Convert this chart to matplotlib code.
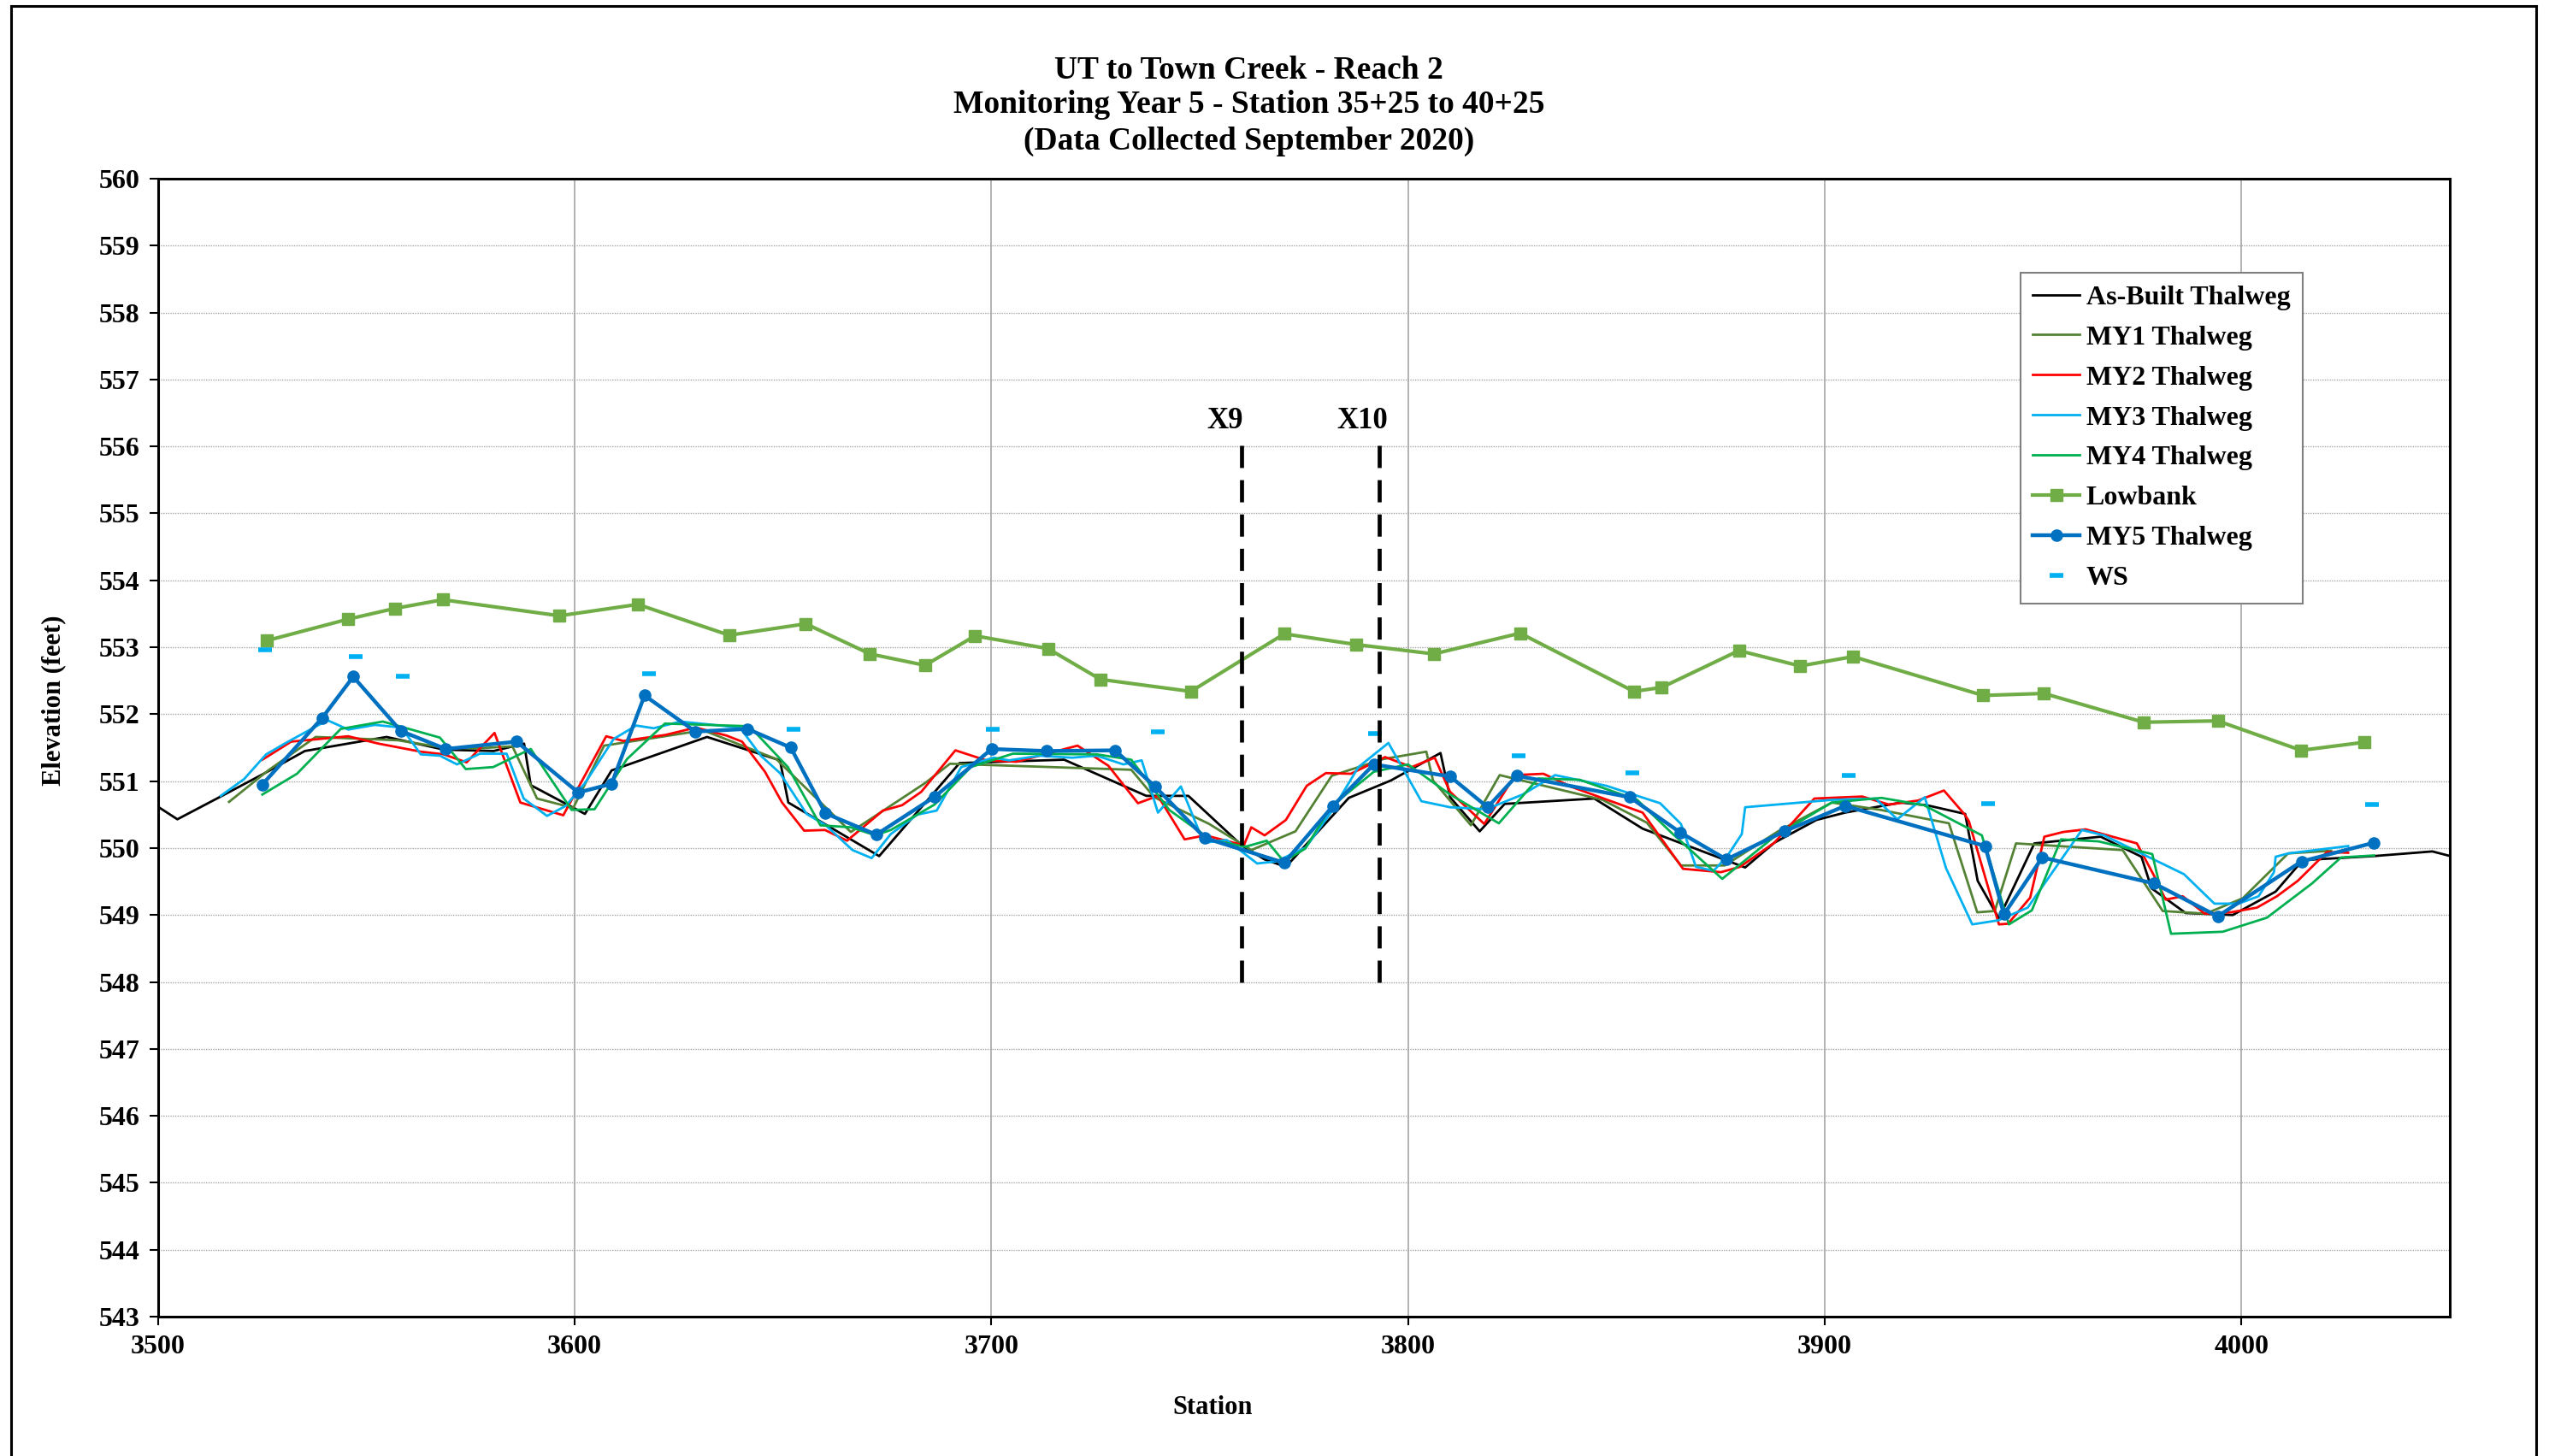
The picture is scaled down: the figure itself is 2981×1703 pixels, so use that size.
import matplotlib
matplotlib.use('Agg')
import matplotlib.pyplot as plt
from matplotlib.lines import Line2D

plt.rcParams['font.family'] = ['Liberation Serif', 'DejaVu Serif']
plt.rcParams['font.weight'] = 'bold'

# --- data (station, elevation in feet) ---
asbuilt_sta = [3498, 3504.7, 3515.1, 3525.7, 3535.3, 3554.9, 3568.7, 3580.6, 3587.9, 3589.5,
               3602.5, 3608.9, 3631.8, 3649.3, 3651.3, 3673.1, 3692.4, 3717.5, 3737.2, 3747.3,
               3760.1, 3765.6, 3770.7, 3785.8, 3795.9, 3807.8, 3810.1, 3817.2, 3823.2, 3844.7,
               3856.3, 3866.9, 3880.9, 3887.9, 3898.0, 3904.9, 3918.3, 3924.5, 3933.7, 3936.7,
               3941.8, 3950.3, 3966.2, 3976.0, 3978.4, 3986.6, 3997.9, 4008.2, 4014.7, 4031.7,
               4045.8, 4052]
asbuilt_elev = [550.70, 550.43, 550.77, 551.12, 551.45, 551.66, 551.47, 551.45, 551.56, 550.94,
                550.51, 551.16, 551.66, 551.31, 550.68, 549.88, 551.27, 551.32, 550.78, 550.78,
                550.04, 549.83, 549.72, 550.75, 551.01, 551.42, 550.76, 550.25, 550.66, 550.74,
                550.29, 550.04, 549.71, 550.08, 550.42, 550.53, 550.68, 550.64, 550.51, 549.51,
                548.95, 550.07, 550.17, 549.87, 549.40, 549.03, 549.00, 549.35, 549.82, 549.88,
                549.95, 549.85]

my1_sta = [3517.1, 3526.5, 3537.9, 3557.6, 3568.6, 3576.8, 3585.1, 3591.0, 3599.7, 3607.1,
           3630.9, 3648.4, 3666.3, 3684.1, 3690.1, 3733.6, 3739.1, 3752.3, 3762.4, 3773.0,
           3781.7, 3794.1, 3804.4, 3806.0, 3815.1, 3822.0, 3846.7, 3857.3, 3865.5, 3876.0,
           3888.8, 3901.7, 3913.4, 3929.8, 3936.6, 3940.8, 3945.9, 3971.5, 3981.1, 3991.4,
           4000.3, 4011.2, 4021.5]
my1_elev = [550.69, 551.16, 551.66, 551.61, 551.50, 551.49, 551.52, 550.74, 550.60, 551.53,
            551.76, 551.33, 550.24, 550.97, 551.26, 551.17, 550.76, 550.36, 549.97, 550.25,
            551.08, 551.33, 551.44, 551.01, 550.34, 551.09, 550.72, 550.38, 549.74, 549.74,
            550.25, 550.68, 550.57, 550.37, 549.04, 549.06, 550.07, 549.97, 549.06, 549.02,
            549.25, 549.92, 549.96]

my2_sta = [3525.1, 3532.0, 3545.7, 3553.0, 3563.1, 3568.6, 3574.1, 3580.8, 3587.0, 3597.3,
           3607.6, 3611.7, 3621.8, 3629.1, 3636.5, 3640.2, 3645.7, 3649.8, 3655.1, 3660.1,
           3665.4, 3674.0, 3678.6, 3683.2, 3691.4, 3698.8, 3706.1, 3720.7, 3728.1, 3735.2,
           3740.0, 3746.4, 3751.4, 3760.6, 3762.4, 3765.6, 3770.7, 3775.7, 3780.3, 3786.3,
           3794.5, 3800.9, 3806.4, 3810.1, 3818.3, 3825.7, 3832.5, 3839.4, 3856.3, 3866.0,
           3875.1, 3879.7, 3887.9, 3897.5, 3909.0, 3915.4, 3922.4, 3928.6, 3933.6, 3934.6,
           3941.8, 3944.0, 3949.3, 3952.7, 3957.2, 3962.6, 3974.9, 3979.0, 3981.8, 3985.9,
           3991.2, 3997.4, 4003.7, 4008.5, 4013.5, 4020.5, 4025.6]
my2_elev = [551.32, 551.59, 551.67, 551.56, 551.44, 551.40, 551.28, 551.72, 550.68, 550.49,
            551.67, 551.60, 551.69, 551.80, 551.68, 551.59, 551.14, 550.68, 550.26, 550.27,
            550.11, 550.56, 550.64, 550.84, 551.46, 551.31, 551.29, 551.53, 551.23, 550.67,
            550.78, 550.13, 550.19, 550.04, 550.31, 550.19, 550.42, 550.93, 551.12, 551.11,
            551.36, 551.21, 551.35, 550.84, 550.36, 551.09, 551.11, 550.91, 550.53, 549.69,
            549.64, 549.72, 550.08, 550.74, 550.77, 550.65, 550.71, 550.86, 550.50, 550.40,
            548.86, 548.87, 549.26, 550.17, 550.24, 550.28, 550.07, 549.59, 549.23, 549.28,
            549.02, 549.04, 549.11, 549.28, 549.51, 549.94, 549.93]

my3_sta = [3515.1, 3520.7, 3526.0, 3531.0, 3540.7, 3545.7, 3552.1, 3558.5, 3563.1, 3567.7,
           3571.8, 3577.3, 3583.7, 3587.8, 3593.4, 3597.9, 3602.5, 3609.4, 3614.8, 3619.0,
           3625.4, 3639.7, 3644.7, 3649.3, 3655.7, 3660.3, 3666.7, 3671.3, 3675.9, 3682.3,
           3686.9, 3692.8, 3700.6, 3704.3, 3711.6, 3719.4, 3725.3, 3731.7, 3736.1, 3740.0,
           3745.5, 3751.0, 3756.5, 3763.8, 3768.4, 3775.5, 3781.7, 3788.1, 3795.3, 3803.2,
           3810.1, 3818.8, 3827.5, 3835.3, 3847.6, 3860.5, 3865.5, 3869.1, 3873.3, 3876.5,
           3880.1, 3880.9, 3901.7, 3912.2, 3917.4, 3924.0, 3929.1, 3935.4, 3941.6, 3948.7,
           3961.7, 3967.0, 3986.2, 3993.5, 3999.3, 4004.1, 4007.8, 4008.2, 4011.2, 4025.6]
my3_elev = [550.78, 551.03, 551.40, 551.58, 551.91, 551.77, 551.84, 551.80, 551.40, 551.38,
            551.25, 551.41, 551.41, 550.74, 550.48, 550.63, 550.97, 551.63, 551.83, 551.79,
            551.89, 551.80, 551.38, 551.12, 550.51, 550.34, 549.97, 549.85, 550.21, 550.50,
            550.56, 551.21, 551.35, 551.31, 551.38, 551.35, 551.38, 551.25, 551.31, 550.53,
            550.92, 550.08, 550.12, 549.77, 549.80, 550.01, 550.55, 551.21, 551.57, 550.70,
            550.61, 550.58, 550.80, 551.09, 550.93, 550.67, 550.36, 549.72, 549.66, 549.87,
            550.21, 550.61, 550.72, 550.74, 550.43, 550.76, 549.70, 548.86, 548.92, 549.11,
            550.27, 550.19, 549.61, 549.17, 549.17, 549.28, 549.64, 549.87, 549.92, 550.03]

my4_sta = [3525.1, 3533.4, 3543.9, 3554.0, 3567.7, 3573.9, 3580.5, 3589.5, 3599.3, 3604.8,
           3612.6, 3621.7, 3642.0, 3651.2, 3659.0, 3666.3, 3672.2, 3675.9, 3686.4, 3695.1,
           3705.2, 3725.3, 3733.6, 3742.7, 3752.8, 3761.0, 3766.1, 3770.2, 3775.3, 3781.7,
           3791.8, 3800.0, 3810.1, 3821.8, 3831.2, 3841.2, 3855.0, 3863.2, 3875.4, 3887.9,
           3901.7, 3913.6, 3923.8, 3937.7, 3944.2, 3949.7, 3956.7, 3965.7, 3978.6, 3983.1,
           3995.5, 4006.1, 4016.9, 4023.9, 4031.8]
my4_elev = [550.80, 551.11, 551.78, 551.89, 551.65, 551.18, 551.21, 551.48, 550.57, 550.58,
            551.33, 551.86, 551.82, 551.21, 550.34, 550.31, 550.19, 550.27, 550.65, 551.21,
            551.41, 551.40, 551.32, 550.57, 550.12, 550.02, 550.11, 549.80, 549.99, 550.63,
            551.14, 551.25, 550.80, 550.37, 551.04, 551.02, 550.72, 550.23, 549.54, 550.17,
            550.68, 550.75, 550.64, 550.19, 548.86, 549.07, 550.13, 550.10, 549.91, 548.72,
            548.75, 548.96, 549.47, 549.86, 549.89]

lowbank_sta = [3526.2, 3545.7, 3556.9, 3568.4, 3596.4, 3615.2, 3637.1, 3655.5, 3670.9, 3684.1,
               3696.1, 3713.6, 3726.2, 3747.9, 3770.3, 3787.6, 3806.2, 3826.9, 3854.2, 3860.9,
               3879.4, 3894.1, 3906.8, 3938.0, 3952.6, 3976.5, 3994.3, 4014.3, 4029.4]
lowbank_elev = [553.10, 553.42, 553.58, 553.71, 553.47, 553.64, 553.18, 553.35, 552.90, 552.73,
                553.17, 552.98, 552.52, 552.34, 553.20, 553.04, 552.90, 553.21, 552.34, 552.40,
                552.95, 552.72, 552.86, 552.28, 552.31, 551.88, 551.90, 551.46, 551.58]

my5_sta = [3525.1, 3539.4, 3546.9, 3558.3, 3569.1, 3586.1, 3600.9, 3608.9, 3616.8, 3629.0,
           3641.5, 3651.9, 3660.2, 3672.4, 3686.5, 3700.1, 3713.2, 3729.7, 3739.3, 3751.3,
           3770.3, 3782.0, 3791.8, 3810.1, 3819.1, 3826.1, 3853.2, 3865.4, 3876.4, 3890.3,
           3904.9, 3938.5, 3943.0, 3952.2, 3979.1, 3994.3, 4014.4, 4031.8]
my5_elev = [550.95, 551.94, 552.56, 551.75, 551.48, 551.59, 550.83, 550.96, 552.28, 551.74,
            551.78, 551.50, 550.52, 550.20, 550.77, 551.48, 551.45, 551.46, 550.92, 550.15,
            549.78, 550.63, 551.25, 551.07, 550.61, 551.08, 550.76, 550.23, 549.83, 550.25,
            550.63, 550.03, 549.01, 549.86, 549.47, 548.98, 549.80, 550.08]

ws_sta = [3525.7, 3547.4, 3558.8, 3617.9, 3652.6, 3700.3, 3740.0, 3792.0, 3826.5, 3853.9,
          3905.8, 3939.1, 4031.3]
ws_elev = [552.96, 552.86, 552.57, 552.60, 551.77, 551.77, 551.74, 551.71, 551.38, 551.12,
           551.08, 550.66, 550.65]

xsec_names = ['X9', 'X10']
xsec_sta = [3760, 3793]
xsec_range = (548.0, 556.1)

fig = plt.figure(figsize=(29.81, 17.03), dpi=100)
ax = fig.add_axes([0.0619, 0.0957, 0.8992, 0.7816])

ax.plot(asbuilt_sta, asbuilt_elev, color='black', lw=2.0, label='As-Built Thalweg')
ax.plot(my1_sta, my1_elev, color='#548235', lw=2.0, label='MY1 Thalweg')
ax.plot(my2_sta, my2_elev, color='#FF0000', lw=2.0, label='MY2 Thalweg')
ax.plot(my3_sta, my3_elev, color='#00B0F0', lw=2.0, label='MY3 Thalweg')
ax.plot(my4_sta, my4_elev, color='#00B050', lw=2.0, label='MY4 Thalweg')
ax.plot(lowbank_sta, lowbank_elev, color='#70AD47', lw=3.0, marker='s', ms=9.5,
        label='Lowbank')
ax.plot(my5_sta, my5_elev, color='#0070C0', lw=3.2, marker='o', ms=9.5,
        label='MY5 Thalweg')
ax.plot(ws_sta, ws_elev, ls='none', marker='_', ms=11, mew=4, color='#00B0F0',
        label='WS')

# cross section markers
for name, st in zip(xsec_names, xsec_sta):
    ax.plot([st, st], xsec_range, color='black', lw=3.4, dashes=(5.5, 3))
    ax.text(st - 4, 556.38, name, ha='center', va='center', fontsize=25,
            fontweight='bold')

ax.set_xlim(3500, 4050)
ax.set_ylim(543, 560)
ax.set_xticks(range(3500, 4001, 100))
ax.set_yticks(range(543, 561))
ax.tick_params(labelsize=23, length=7, width=1.5, direction='out', pad=8)
for lab in ax.get_xticklabels() + ax.get_yticklabels():
    lab.set_fontweight('bold')

ax.yaxis.grid(True, color='#A6A6A6', lw=1.0, ls=(0, (1, 1)))
ax.xaxis.grid(True, color='#A6A6A6', lw=1.2, ls='-')
ax.set_axisbelow(True)
for sp in ax.spines.values():
    sp.set_linewidth(2.2)
    sp.set_color('black')

fig.text(0.49, 1 - 82 / 1703, 'UT to Town Creek - Reach 2', ha='center', va='center',
         fontsize=27, fontweight='bold')
fig.text(0.49, 1 - 123 / 1703, 'Monitoring Year 5 - Station 35+25 to 40+25', ha='center',
         va='center', fontsize=27, fontweight='bold')
fig.text(0.49, 1 - 165 / 1703, '(Data Collected September 2020)', ha='center', va='center',
         fontsize=27, fontweight='bold')
fig.text(1418 / 2981, 1 - 1646 / 1703, 'Station', ha='center', va='center', fontsize=22,
         fontweight='bold')
fig.text(63 / 2981, 1 - 819 / 1703, 'Elevation (feet)', ha='center', va='center',
         rotation=90, fontsize=22, fontweight='bold')

leg = ax.legend(loc='upper left', bbox_to_anchor=(2363 / 2981, 1 - 319 / 1703),
                bbox_transform=fig.transFigure, fontsize=23, frameon=True, fancybox=False,
                edgecolor='#7F7F7F', framealpha=1, borderpad=0.45, labelspacing=0.55,
                handlelength=1.7, handletextpad=0.25, borderaxespad=0)
leg.get_frame().set_linewidth(1.5)
for t in leg.get_texts():
    t.set_fontweight('bold')

# chart border
fig.add_artist(Line2D([13 / 2981, 13 / 2981], [-0.01, 1 - 7 / 1703], color='black', lw=2.2,
                      transform=fig.transFigure))
fig.add_artist(Line2D([13 / 2981, 2966 / 2981], [1 - 7 / 1703, 1 - 7 / 1703], color='black',
                      lw=2.2, transform=fig.transFigure))
fig.add_artist(Line2D([2966 / 2981, 2966 / 2981], [-0.01, 1 - 7 / 1703], color='black', lw=2.2,
                      transform=fig.transFigure))

fig.savefig('out.png', dpi=100)
